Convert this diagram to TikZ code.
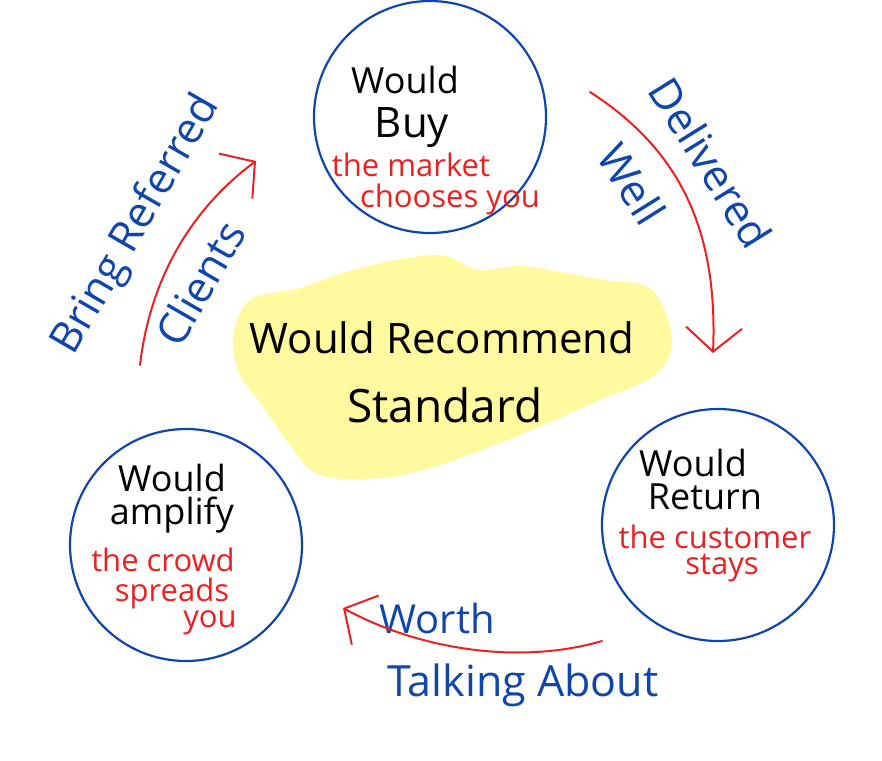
\documentclass[tikz,border=0pt]{standalone}
\usepackage{fontspec}
\setmainfont{Open Sans}
\usetikzlibrary{arrows.meta}
\definecolor{blueink}{RGB}{16,70,170}
\definecolor{redink}{RGB}{236,32,32}
\definecolor{hiyellow}{RGB}{255,250,160}
\tikzset{
  ring/.style={circle, draw=blueink, line width=2.2pt, minimum size=232pt, inner sep=0pt},
  blk/.style={text=black, inner sep=0pt, font=\fontsize{36}{38}\selectfont},
  rd/.style={text=redink, inner sep=0pt, font=\fontsize{31}{33}\selectfont},
  bl/.style={text=blueink, inner sep=0pt, font=\fontsize{43}{45}\selectfont},
  ctr/.style={text=black, inner sep=0pt, font=\fontsize{42}{44}\selectfont},
  redarrow/.style={draw=redink, line width=2pt, line cap=round,
    -{Straight Barb[length=24pt,width=56pt,line width=2pt]}}
}
\begin{document}
\begin{tikzpicture}[x=1pt,y=-1pt]
\useasboundingbox (0,0) rectangle (882,760);
% yellow highlight
\fill[hiyellow] plot[smooth cycle, tension=0.6] coordinates {
 (233,338) (250,300) (300,288) (360,268) (437,255) (478,270) (520,266)
 (560,272) (605,280) (652,290) (672,340) (655,375) (600,400) (520,435)
 (440,465) (380,478) (320,475) (290,445) (262,405) (240,375)};
% circles
\node[ring] (buy) at (430,117) {};
\node[ring] (ret) at (718,525) {};
\node[ring] (amp) at (186,545) {};
% center text
\node[ctr] (rec) at (442,338) {Would Recommend};
\node[ctr, font=\fontsize{46}{48}\selectfont] (std) at (445,405) {Standard};
% top circle text
\node[blk] (b1) at (405,80) {Would};
\node[blk, font=\fontsize{42}{44}\selectfont] (b2) at (412,128) {Buy};
\node[rd] (b3) at (411,165) {the market};
\node[rd] (b4) at (450,199) {chooses you};
% right circle text
\node[blk] (r1) at (693,463) {Would};
\node[blk] (r2) at (705,497) {Return};
\node[rd] (r3) at (715,537) {the customer};
\node[rd] (r4) at (722,568) {stays};
% left circle text
\node[blk] (l1) at (172,478) {Would};
\node[blk] (l2) at (172,515) {amplify};
\node[rd] (l3) at (163,560) {the crowd};
\node[rd] (l4) at (172,593) {spreads};
\node[rd] (l5) at (210,623) {you};
% blue labels
\node[bl, rotate=60] (lbl1) at (137,225) {Bring Referred};
\node[bl, rotate=60] (lbl2) at (200,283) {Clients};
\node[bl, rotate=-58] (lbl3) at (711,163) {Delivered};
\node[bl, rotate=-58] (lbl4) at (632,184) {Well};
\node[bl, font=\fontsize{40}{42}\selectfont] (lbl5) at (437,618) {Worth};
\node[bl] (lbl6) at (523,685) {Talking About};
% arrows
\coordinate (a1s) at (140,365);
\coordinate (a1e) at (256,161);
\coordinate (a2s) at (590,92);
\coordinate (a2e) at (713,353);
\coordinate (a3s) at (602,641);
\coordinate (a3e) at (343,608);
\draw[redarrow] (a1s) .. controls (150,280) and (190,210) .. (a1e);
\draw[redarrow] (a2s) .. controls (680,150) and (718,230) .. (a2e);
\draw[redarrow] (a3s) .. controls (520,665) and (420,650) .. (a3e);
\end{tikzpicture}
\end{document}
